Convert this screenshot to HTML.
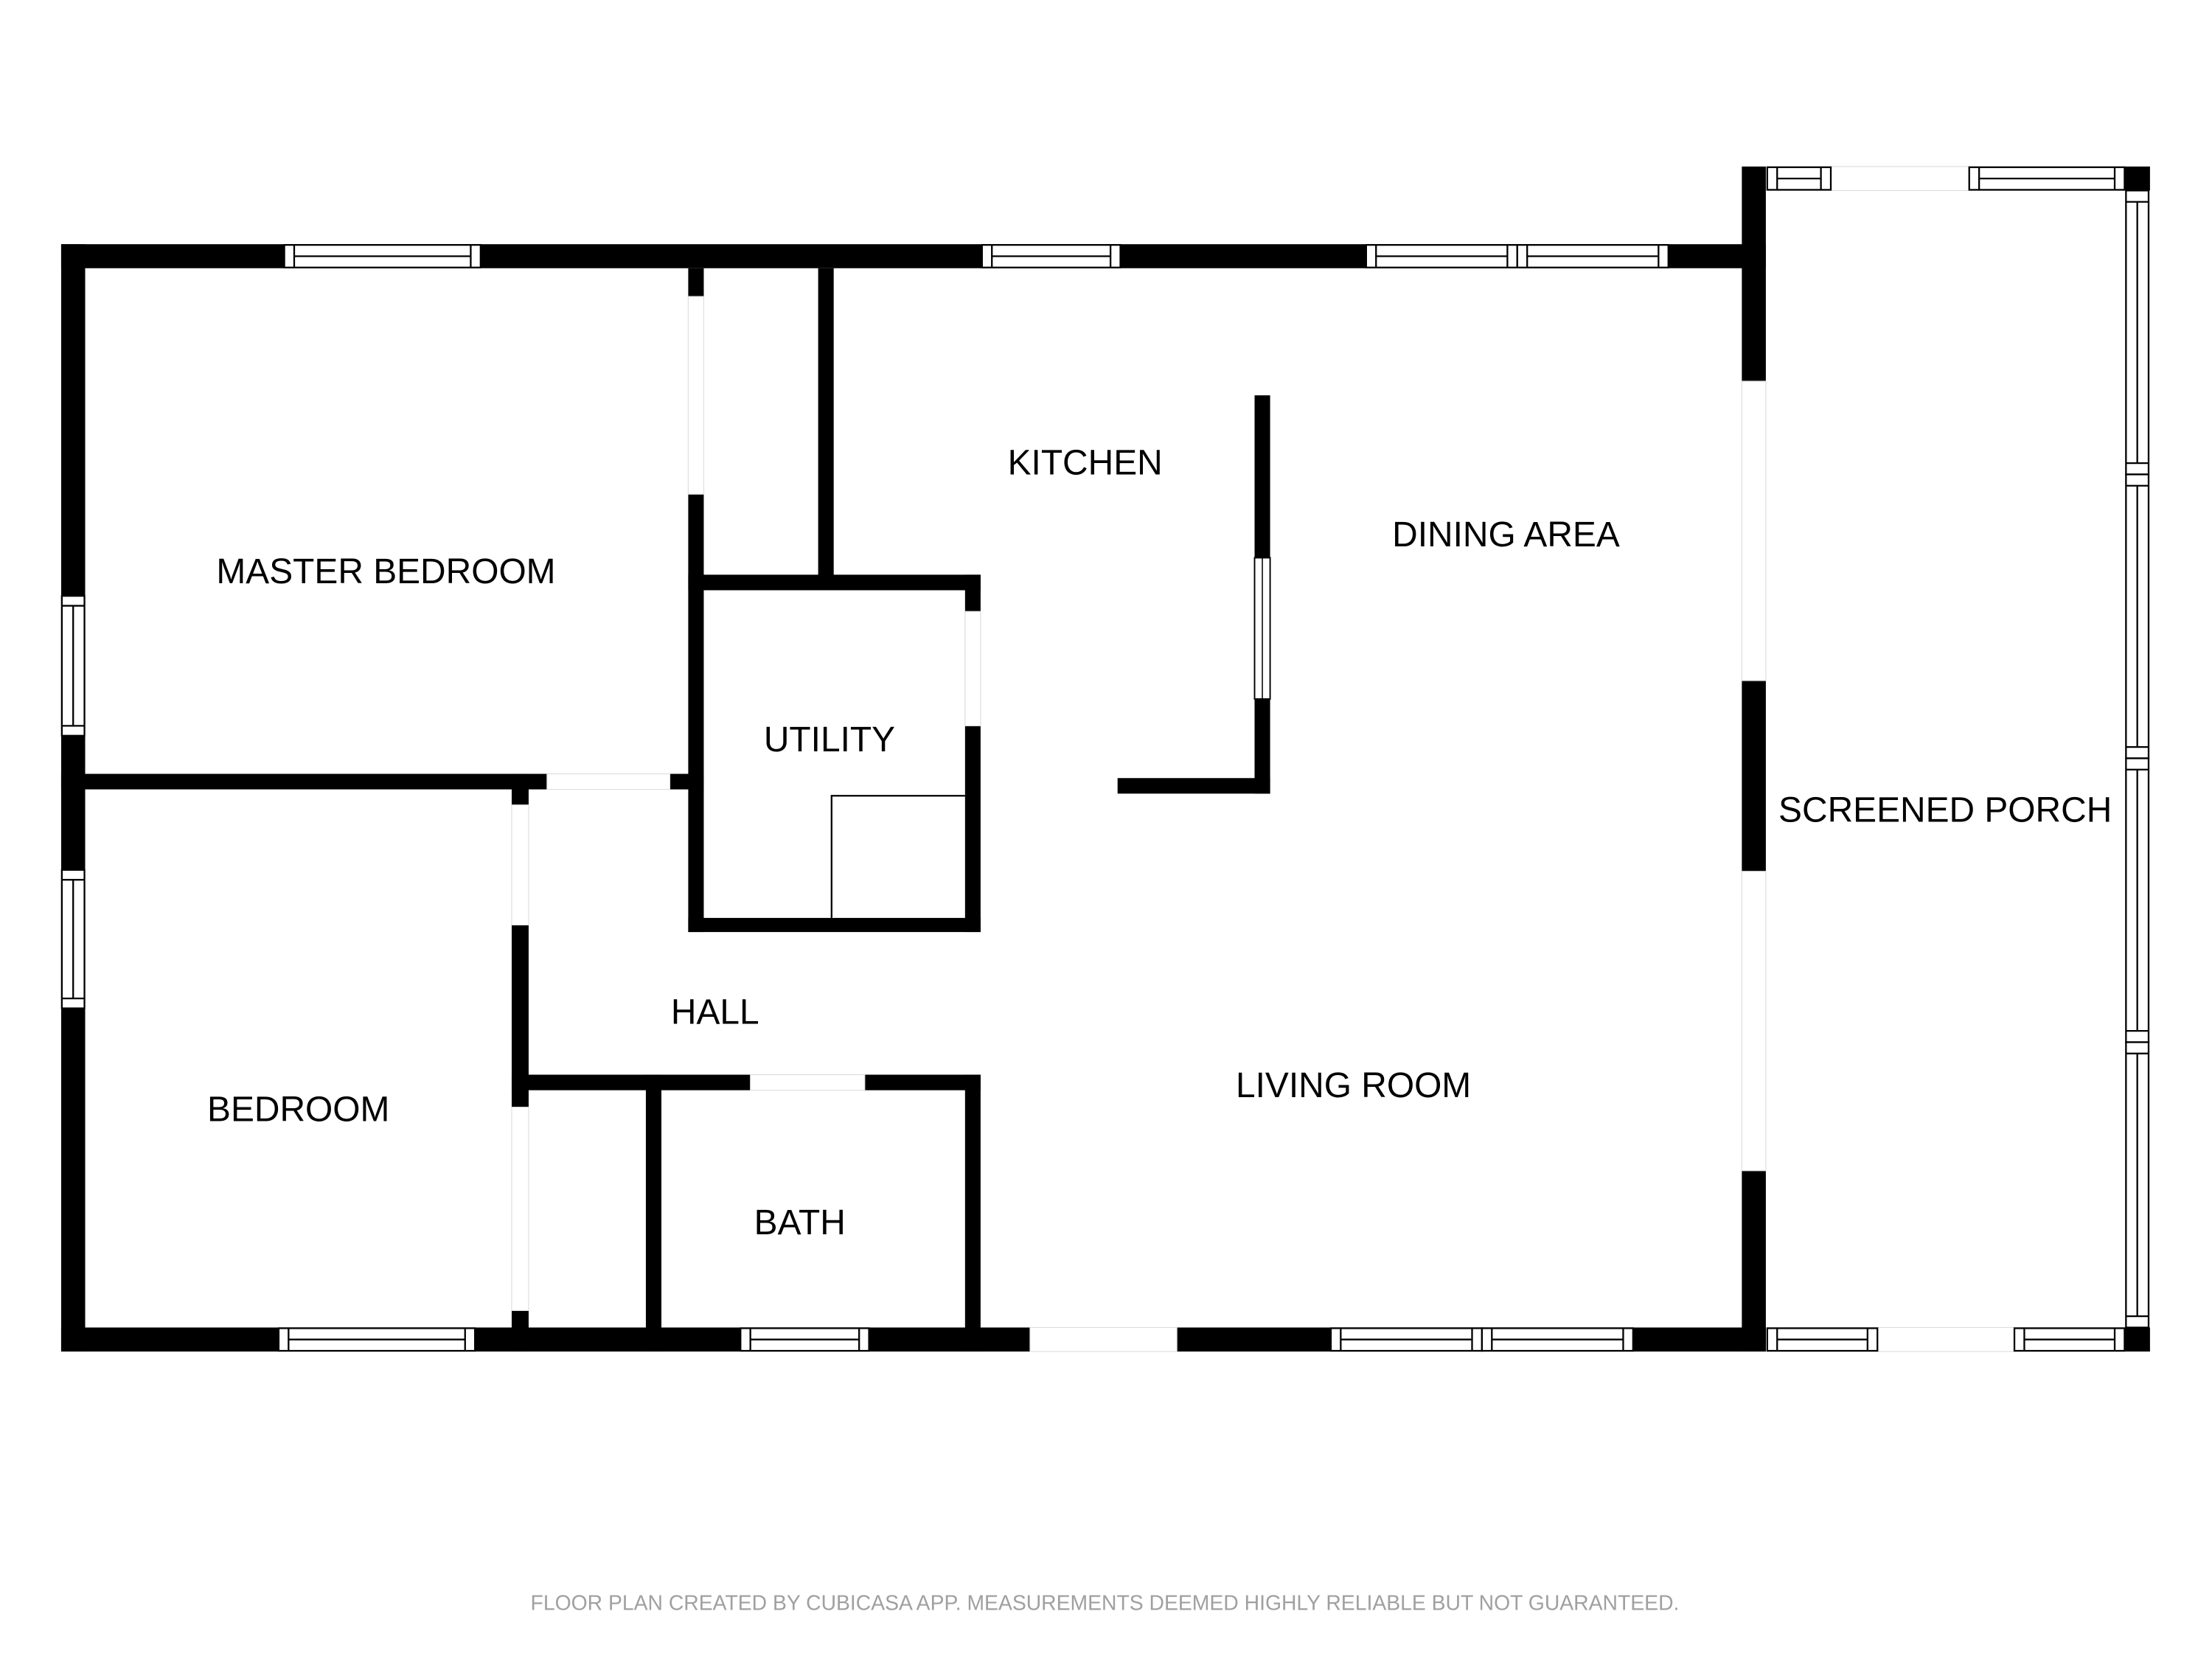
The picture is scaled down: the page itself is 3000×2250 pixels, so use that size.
<!DOCTYPE html>
<html><head><style>
html,body{margin:0;padding:0;background:#fff;}
svg{display:block;}
text{font-family:"Liberation Sans",sans-serif;fill:#000;}
</style></head><body>
<svg width="3000" height="2250" viewBox="0.7 0.1 1566.2 1174.6" preserveAspectRatio="none" xmlns="http://www.w3.org/2000/svg">
<rect x="-10" y="-10" width="1600" height="1200" fill="#fff"/>
<g fill="#000">
<rect x="44" y="173" width="1207" height="17"/>
<rect x="44" y="173" width="17" height="784"/>
<rect x="44" y="940" width="1207" height="17"/>
<rect x="1234" y="118" width="17" height="839"/>
<rect x="1505" y="118" width="18" height="17"/>
<rect x="1505" y="940" width="18" height="17"/>
<rect x="488" y="190" width="11" height="470"/>
<rect x="580" y="190" width="11" height="227"/>
<rect x="488" y="407" width="207" height="11"/>
<rect x="684" y="407" width="11" height="253"/>
<rect x="488" y="650" width="207" height="10"/>
<rect x="44" y="548" width="455" height="11"/>
<rect x="363" y="548" width="12" height="409"/>
<rect x="363" y="761" width="332" height="11"/>
<rect x="458" y="761" width="11" height="196"/>
<rect x="684" y="761" width="11" height="196"/>
<rect x="889" y="280" width="11" height="282"/>
<rect x="792" y="551" width="108" height="11"/>
</g>
<g fill="#fff" stroke="#ddd" stroke-width="0.6">
<rect x="488" y="210" width="11" height="140"/>
<rect x="388" y="548" width="87" height="11"/>
<rect x="363" y="570" width="12" height="85"/>
<rect x="363" y="784" width="12" height="144"/>
<rect x="532" y="761" width="81" height="11"/>
<rect x="684" y="433" width="11" height="81"/>
<rect x="730" y="940" width="104" height="17"/>
<rect x="1234" y="270" width="17" height="212"/>
<rect x="1234" y="617" width="17" height="212"/>
<rect x="1297" y="118" width="98" height="17"/>
<rect x="1330" y="940" width="97" height="17"/>
</g>
<rect x="889" y="395" width="11" height="100" fill="#fff" stroke="#000" stroke-width="1"/>
<line x1="894.5" y1="395" x2="894.5" y2="495" stroke="#000" stroke-width="0.8"/>
<path d="M589.5 650 V563.5 H684" fill="none" stroke="#000" stroke-width="1.2"/>
<g fill="#fff" stroke="#000" stroke-width="1.2">
<rect x="202" y="173.5" width="139" height="16"/><line x1="209" y1="173.5" x2="209" y2="189.5"/><line x1="334" y1="173.5" x2="334" y2="189.5"/><line x1="209" y1="181.5" x2="334" y2="181.5"/>
<rect x="696" y="173.5" width="98" height="16"/><line x1="703" y1="173.5" x2="703" y2="189.5"/><line x1="787" y1="173.5" x2="787" y2="189.5"/><line x1="703" y1="181.5" x2="787" y2="181.5"/>
<rect x="968" y="173.5" width="107" height="16"/><line x1="975" y1="173.5" x2="975" y2="189.5"/><line x1="1068" y1="173.5" x2="1068" y2="189.5"/><line x1="975" y1="181.5" x2="1068" y2="181.5"/>
<rect x="1075" y="173.5" width="107" height="16"/><line x1="1082" y1="173.5" x2="1082" y2="189.5"/><line x1="1175" y1="173.5" x2="1175" y2="189.5"/><line x1="1082" y1="181.5" x2="1175" y2="181.5"/>
<rect x="198" y="940.5" width="139" height="16"/><line x1="205" y1="940.5" x2="205" y2="956.5"/><line x1="330" y1="940.5" x2="330" y2="956.5"/><line x1="205" y1="948.5" x2="330" y2="948.5"/>
<rect x="525" y="940.5" width="91" height="16"/><line x1="532" y1="940.5" x2="532" y2="956.5"/><line x1="609" y1="940.5" x2="609" y2="956.5"/><line x1="532" y1="948.5" x2="609" y2="948.5"/>
<rect x="943" y="940.5" width="107" height="16"/><line x1="950" y1="940.5" x2="950" y2="956.5"/><line x1="1043" y1="940.5" x2="1043" y2="956.5"/><line x1="950" y1="948.5" x2="1043" y2="948.5"/>
<rect x="1050" y="940.5" width="107" height="16"/><line x1="1057" y1="940.5" x2="1057" y2="956.5"/><line x1="1150" y1="940.5" x2="1150" y2="956.5"/><line x1="1057" y1="948.5" x2="1150" y2="948.5"/>
<rect x="1252" y="940.5" width="78" height="16"/><line x1="1259" y1="940.5" x2="1259" y2="956.5"/><line x1="1323" y1="940.5" x2="1323" y2="956.5"/><line x1="1259" y1="948.5" x2="1323" y2="948.5"/>
<rect x="1427" y="940.5" width="78" height="16"/><line x1="1434" y1="940.5" x2="1434" y2="956.5"/><line x1="1498" y1="940.5" x2="1498" y2="956.5"/><line x1="1434" y1="948.5" x2="1498" y2="948.5"/>
<rect x="1252" y="118.5" width="45" height="16"/><line x1="1259" y1="118.5" x2="1259" y2="134.5"/><line x1="1290" y1="118.5" x2="1290" y2="134.5"/><line x1="1259" y1="126.5" x2="1290" y2="126.5"/>
<rect x="1395" y="118.5" width="110" height="16"/><line x1="1402" y1="118.5" x2="1402" y2="134.5"/><line x1="1498" y1="118.5" x2="1498" y2="134.5"/><line x1="1402" y1="126.5" x2="1498" y2="126.5"/>
<rect x="44.5" y="422" width="16" height="99"/><line x1="44.5" y1="429" x2="60.5" y2="429"/><line x1="44.5" y1="514" x2="60.5" y2="514"/><line x1="52.5" y1="429" x2="52.5" y2="514"/>
<rect x="44.5" y="616" width="16" height="98"/><line x1="44.5" y1="623" x2="60.5" y2="623"/><line x1="44.5" y1="707" x2="60.5" y2="707"/><line x1="52.5" y1="623" x2="52.5" y2="707"/>
<rect x="1506" y="135" width="16" height="201"/><line x1="1506" y1="143" x2="1522" y2="143"/><line x1="1506" y1="328" x2="1522" y2="328"/><line x1="1514" y1="143" x2="1514" y2="328"/>
<rect x="1506" y="336" width="16" height="201"/><line x1="1506" y1="344" x2="1522" y2="344"/><line x1="1506" y1="529" x2="1522" y2="529"/><line x1="1514" y1="344" x2="1514" y2="529"/>
<rect x="1506" y="537" width="16" height="201"/><line x1="1506" y1="545" x2="1522" y2="545"/><line x1="1506" y1="730" x2="1522" y2="730"/><line x1="1514" y1="545" x2="1514" y2="730"/>
<rect x="1506" y="738" width="16" height="202"/><line x1="1506" y1="746" x2="1522" y2="746"/><line x1="1506" y1="932" x2="1522" y2="932"/><line x1="1514" y1="746" x2="1514" y2="932"/>
</g>
<g font-size="25" text-anchor="middle">
<text x="274" y="413">MASTER BEDROOM</text>
<text x="769" y="336">KITCHEN</text>
<text x="1067" y="387">DINING AREA</text>
<text x="588" y="532">UTILITY</text>
<text x="1378" y="582">SCREENED PORCH</text>
<text x="507" y="725">HALL</text>
<text x="959" y="777">LIVING ROOM</text>
<text x="212" y="794">BEDROOM</text>
<text x="567" y="874">BATH</text>
</g>
<text x="783" y="1140" font-size="14.8" text-anchor="middle" style="fill:#a0a0a0">FLOOR PLAN CREATED BY CUBICASA APP. MEASUREMENTS DEEMED HIGHLY RELIABLE BUT NOT GUARANTEED.</text>
</svg>
</body></html>
